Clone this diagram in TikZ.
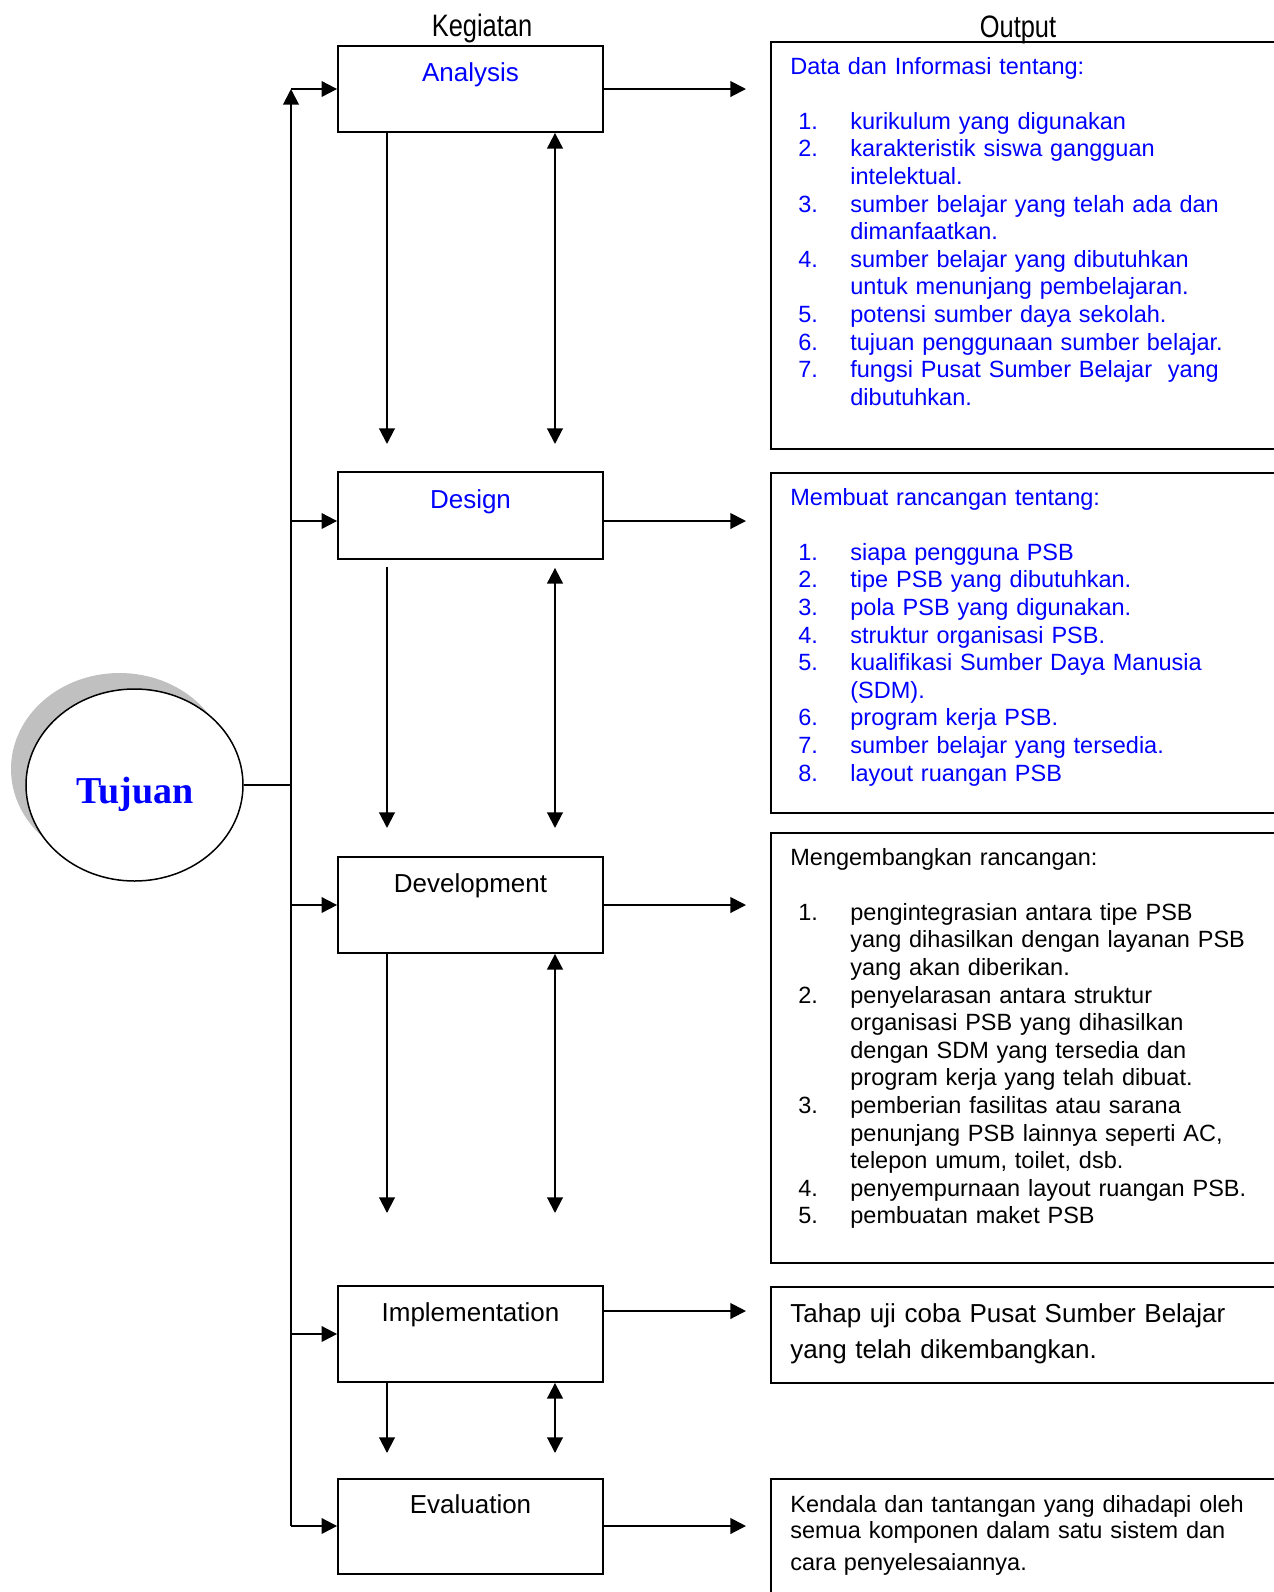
\documentclass[tikz,border=0pt]{standalone}
\usepackage{fontspec}
\setmainfont{Liberation Sans}
\newfontfamily\hdrfont[FakeStretch=0.82]{Liberation Sans}
\newfontfamily\tjfont{Liberation Serif}
\usetikzlibrary{arrows.meta,calc,shapes.geometric}
\definecolor{txtblue}{RGB}{0,0,255}
\definecolor{shade}{RGB}{192,192,192}
% numbered list line and its continuation line
\newcommand\numitem[2]{\hspace*{4pt}\makebox[26pt][l]{#1}#2}
\newcommand\contline[1]{\hspace*{30pt}#1}

\begin{document}
\begin{tikzpicture}[x=0.5pt,y=-0.5pt,
  kbox/.style={draw, line width=0.9pt, minimum width=132.5pt, inner sep=0pt},
  obox/.style={draw, line width=0.9pt, anchor=north west, minimum width=270pt, inner sep=0pt},
  tip/.tip={Triangle[length=7.8pt,width=7.8pt]},
  arr/.style={line width=1pt, -tip},
  darr/.style={line width=1pt, tip-tip},
  klabel/.style={anchor=base, inner sep=0pt, font=\fontsize{13}{15}\selectfont},
  otext/.style={anchor=base west, inner sep=0pt, text width=250pt, align=left,
    font=\fontsize{11.75}{13.8}\selectfont},
  hdr/.style={anchor=base, inner sep=0pt, font=\hdrfont\fontsize{15.5}{18}\selectfont},
  oval/.style={ellipse, minimum width=108.5pt, minimum height=96pt, inner sep=0pt},
]
\useasboundingbox (0,0) rectangle (1274,1592);
\clip (0,0) rectangle (1274,1592);

% column headings
\node[hdr] (hk) at (482,36) {Kegiatan};
\node[hdr] (ho) at (1018,37) {Output};

% goal ellipse with its shadow
\node[oval, fill=shade] (tjs) at (119.5,769) {};
\node[oval, draw, fill=white, line width=0.75pt] (tj) at (134.5,785) {};
\node[anchor=base, inner sep=0pt, text=txtblue,
  font=\tjfont\bfseries\fontsize{19}{21}\selectfont] (tjl) at (135,803) {Tujuan};

% activity boxes
\node[kbox, minimum height=43pt]   (an) at (470.5,89)     {};
\node[kbox, minimum height=43.5pt] (dn) at (470.5,515.5)  {};
\node[kbox, minimum height=48pt]   (dv) at (470.5,905)    {};
\node[kbox, minimum height=48pt]   (im) at (470.5,1334)   {};
\node[kbox, minimum height=47.5pt] (ev) at (470.5,1526.5) {};

\node[klabel, text=txtblue] (lan) at ($(an.north)+(0,36)$) {Analysis};
\node[klabel, text=txtblue] (ldn) at ($(dn.north)+(0,37)$) {Design};
\node[klabel] (ldv) at ($(dv.north)+(0,36)$) {Development};
\node[klabel] (lim) at ($(im.north)+(0,36)$) {Implementation};
\node[klabel] (lev) at ($(ev.north)+(0,35)$) {Evaluation};

% output boxes (open to the right)
\node[obox, minimum height=203.5pt] (oa) at (770,41)   {};
\node[obox, minimum height=170pt]   (od) at (770,472)  {};
\node[obox, minimum height=215pt]   (ov) at (770,832)  {};
\node[obox, minimum height=48pt]    (oi) at (770,1286) {};
\node[obox, minimum height=80pt]    (oe) at (770,1478) {};

% output texts
\node[otext, text=txtblue] (ta) at (790,74) {Data dan Informasi tentang:\\[13.8pt]
\numitem{1.}{kurikulum yang digunakan}\\
\numitem{2.}{karakteristik siswa gangguan}\\
\contline{intelektual.}\\
\numitem{3.}{sumber belajar yang telah ada dan}\\
\contline{dimanfaatkan.}\\
\numitem{4.}{sumber belajar yang dibutuhkan}\\
\contline{untuk menunjang pembelajaran.}\\
\numitem{5.}{potensi sumber daya sekolah.}\\
\numitem{6.}{tujuan penggunaan sumber belajar.}\\
\numitem{7.}{fungsi Pusat Sumber Belajar\ \ yang}\\
\contline{dibutuhkan.}};

\node[otext, text=txtblue] (td) at (790,505) {Membuat rancangan tentang:\\[13.8pt]
\numitem{1.}{siapa pengguna PSB}\\
\numitem{2.}{tipe PSB yang dibutuhkan.}\\
\numitem{3.}{pola PSB yang digunakan.}\\
\numitem{4.}{struktur organisasi PSB.}\\
\numitem{5.}{kualifikasi Sumber Daya Manusia}\\
\contline{(SDM).}\\
\numitem{6.}{program kerja PSB.}\\
\numitem{7.}{sumber belajar yang tersedia.}\\
\numitem{8.}{layout ruangan PSB}};

\node[otext] (tv) at (790,865) {Mengembangkan rancangan:\\[13.8pt]
\numitem{1.}{pengintegrasian antara tipe PSB}\\
\contline{yang dihasilkan dengan layanan PSB}\\
\contline{yang akan diberikan.}\\
\numitem{2.}{penyelarasan antara struktur}\\
\contline{organisasi PSB yang dihasilkan}\\
\contline{dengan SDM yang tersedia dan}\\
\contline{program kerja yang telah dibuat.}\\
\numitem{3.}{pemberian fasilitas atau sarana}\\
\contline{penunjang PSB lainnya seperti AC,}\\
\contline{telepon umum, toilet, dsb.}\\
\numitem{4.}{penyempurnaan layout ruangan PSB.}\\
\numitem{5.}{pembuatan maket PSB}};

\node[otext, font=\fontsize{13}{18}\selectfont] (ti) at (790,1322)
  {Tahap uji coba Pusat Sumber Belajar\\yang telah dikembangkan.};

\node[otext, font=\fontsize{11.75}{13}\selectfont] (te) at (790,1512)
  {Kendala dan tantangan yang dihadapi oleh\\
   semua komponen dalam satu sistem dan\\[3pt]
   cara penyelesaiannya.};

% trunk from the goal to every activity
\coordinate (t1) at (291,89);
\coordinate (t2) at (291,521);
\coordinate (t3) at (291,905);
\coordinate (t4) at (291,1334);
\coordinate (t5) at (291,1526);
\draw[line width=1pt] (tj.east) -- (tj.east -| t1);
\draw[arr] (t5) -- (t1);
\draw[arr] (t1) -- (an.west);
\draw[arr] (t2) -- (t2 -| dn.west);
\draw[arr] (t3) -- (dv.west);
\draw[arr] (t4) -- (im.west);
\draw[arr] (t5) -- (t5 -| ev.west);

% arrows to the outputs
\coordinate (e1) at (746,89);
\coordinate (e2) at (746,521);
\coordinate (e3) at (746,905);
\coordinate (e4) at (746,1311);
\coordinate (e5) at (746,1526);
\draw[arr] (an.east) -- (e1);
\draw[arr] (e2 -| dn.east) -- (e2);
\draw[arr] (dv.east) -- (e3);
\draw[arr] (e4 -| im.east) -- (e4);
\draw[arr] (e5 -| ev.east) -- (e5);

% links between successive activities
\coordinate (a1) at (387,444);  \coordinate (a2) at (555,444);
\coordinate (b1) at (387,828);  \coordinate (b2) at (555,828);
\coordinate (c1) at (387,1213); \coordinate (c2) at (555,1213);
\coordinate (d1) at (387,1453); \coordinate (d2) at (555,1453);
\draw[arr]  (a1 |- an.south) -- (a1);
\draw[darr] (a2 |- an.south) -- (a2);
\draw[arr]  ($(b1 |- dn.south)+(0,7)$) -- (b1);
\draw[darr] ($(b2 |- dn.south)+(0,8)$) -- (b2);
\draw[arr]  (c1 |- dv.south) -- (c1);
\draw[darr] (c2 |- dv.south) -- (c2);
\draw[arr]  (d1 |- im.south) -- (d1);
\draw[darr] (d2 |- im.south) -- (d2);
\end{tikzpicture}
\end{document}
